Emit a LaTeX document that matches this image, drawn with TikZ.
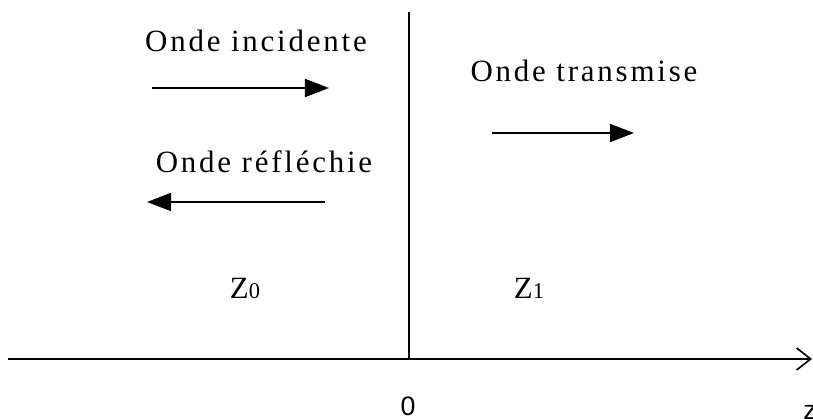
\documentclass[tikz,border=0pt]{standalone}
\usepackage{fontspec}
\setmainfont{Liberation Serif}
\newfontfamily\axisfont{Liberation Sans}
\usetikzlibrary{arrows.meta}

\begin{document}
\begin{tikzpicture}[
    x=0.025cm, y=-0.025cm,
    lbl/.style={anchor=base, inner sep=0pt, font=\fontsize{22}{26}\selectfont\addfontfeature{LetterSpace=9}},
    axlbl/.style={anchor=base, inner sep=0pt, font=\axisfont\fontsize{19}{22}\selectfont},
    wave/.style={-{Triangle[length=0.6cm, width=0.45cm]}, line width=1.4pt},
    axis/.style={-{Straight Barb[length=0.35cm, width=0.55cm, line width=1.2pt]}, line width=1.3pt}
]
\useasboundingbox (0,0) rectangle (813,419);

% Axes
\coordinate (zl) at (8,359);
\coordinate (zr) at (812,359);
\coordinate (top) at (409,12);
\coordinate (orig) at (409,359);
\draw[axis] (zl) -- (zr);
\draw[line width=1.3pt] (top) -- (orig);
\node[axlbl] (zero) at (408,415) {0};
\node[axlbl] (zlab) at (810,419) {z};

% Waves
\node[lbl] (inc) at (256,52) {Onde incidente};
\node[lbl] (ref) at (264,173) {Onde réfléchie};
\node[lbl] (tra) at (584,82) {Onde transmise};
\coordinate (inc1) at (152,88);
\coordinate (inc2) at (329,88);
\coordinate (ref1) at (325,202);
\coordinate (ref2) at (147,202);
\coordinate (tra1) at (492,133);
\coordinate (tra2) at (634,133);
\draw[wave] (inc1) -- (inc2);
\draw[wave] (ref1) -- (ref2);
\draw[wave] (tra1) -- (tra2);

% Media
\node[lbl] (z0) at (245,298) {Z{\fontsize{16}{18}\selectfont 0}};
\node[lbl] (z1) at (529,298) {Z{\fontsize{16}{18}\selectfont 1}};
\end{tikzpicture}
\end{document}
